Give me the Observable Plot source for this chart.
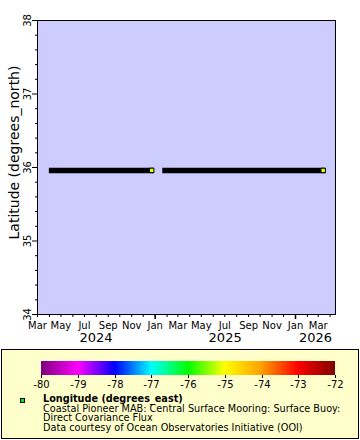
<!DOCTYPE html>
<html><head><meta charset="utf-8">
<script src="https://cdn.jsdelivr.net/npm/d3@7"></script>
<script src="https://cdn.jsdelivr.net/npm/@observablehq/plot@0.6"></script>
<style>
html,body{margin:0;padding:0;background:#fff;}
#wrap{position:relative;width:360px;height:440px;overflow:hidden;font-family:"DejaVu Sans";color:#000;}
#chart{position:absolute;left:0;top:0;}
#box{position:absolute;left:1px;top:349px;width:358px;height:90px;box-sizing:border-box;border:1px solid #000;background:#ffffcc;}
#cbar{position:absolute;left:0;top:343px;}
#cbar svg{background:transparent !important;font-family:"DejaVu Sans" !important;font-size:10px !important;color:#000;}
.lt{position:absolute;left:43px;height:9.7px;line-height:9.7px;white-space:nowrap;font-family:"DejaVu Sans";font-size:9.7px;}
#swatch{position:absolute;left:20px;top:398px;width:5px;height:5px;box-sizing:border-box;border:1px solid #000;background:#00ee00;}
</style>
</head><body>
<div id="wrap">
  <div id="chart"></div>
  <div id="box"></div>
  <div id="cbar"></div>
  <div id="swatch"></div>
  <div class="lt" style="top:394px;font-weight:bold;">Longitude (degrees_east)</div>
  <div class="lt" style="top:403.7px;">Coastal Pioneer MAB: Central Surface Mooring: Surface Buoy:</div>
  <div class="lt" style="top:413.4px;">Direct Covariance Flux</div>
  <div class="lt" style="top:423.1px;">Data courtesy of Ocean Observatories Initiative (OOI)</div>
</div>
<script>
// ---- data ----
const segStart = ["2024-04-08", "2025-01-28"];
const segEnd = ["2024-12-23", "2026-03-14"];
const segLat = [35.96, 35.96];
const lastLon = [-75.12, -75.12];

const lonStops = [-80, -79, -78, -77, -76, -75, -74, -73, -72];
const rampColors = ["#800080", "#ff00ff", "#0000ff", "#00ffff", "#00ff00", "#ffff00", "#ffa000", "#ff0000", "#800000"];

const monthTicks = ["2024-03-01","2024-04-01","2024-05-01","2024-06-01","2024-07-01","2024-08-01","2024-09-01","2024-10-01","2024-11-01","2024-12-01",
  "2025-01-01","2025-02-01","2025-03-01","2025-04-01","2025-05-01","2025-06-01","2025-07-01","2025-08-01","2025-09-01","2025-10-01","2025-11-01","2025-12-01",
  "2026-01-01","2026-02-01","2026-03-01","2026-04-01"];
const janTicks = ["2025-01-01", "2026-01-01"];
const monthLabelDates = ["2024-03-01","2024-05-01","2024-07-01","2024-09-01","2024-11-01","2025-01-01","2025-03-01","2025-05-01","2025-07-01","2025-09-01","2025-11-01","2026-01-01","2026-03-01"];
const monthLabels = ["Mar","May","Jul","Sep","Nov","Jan","Mar","May","Jul","Sep","Nov","Jan","Mar"];
const yearLabelDates = ["2024-07-31", "2025-07-02", "2026-02-22"];
const yearLabels = ["2024", "2025", "2026"];

const latMajor = [34, 35, 36, 37, 38];
const latMinor = [34.2, 34.4, 34.6, 34.8, 35.2, 35.4, 35.6, 35.8, 36.2, 36.4, 36.6, 36.8, 37.2, 37.4, 37.6, 37.8];
const xDomain = ["2024-03-01", "2026-04-15"];

// ---- build ----
const segments = segStart.map((s, i) => ({start: new Date(s), end: new Date(segEnd[i]), lat: segLat[i], lon: lastLon[i]}));
const colorOpts = {type: "linear", domain: lonStops, range: rampColors};

const chart = Plot.plot({
  width: 360, height: 347,
  marginLeft: 37, marginRight: 25, marginTop: 20, marginBottom: 33,
  style: {fontFamily: "DejaVu Sans", fontSize: "10px", background: "transparent", color: "black"},
  x: {type: "utc", domain: xDomain.map(d => new Date(d)), label: null},
  y: {domain: [34, 38], label: null},
  color: colorOpts,
  marks: [
    Plot.frame({fill: "#ccccff"}),
    Plot.axisX(monthTicks.map(d => new Date(d)), {tickSize: 3, tickFormat: () => "", label: null}),
    Plot.axisX(janTicks.map(d => new Date(d)), {tickSize: 5, strokeWidth: 1.5, tickFormat: () => "", label: null}),
    Plot.axisY(latMinor, {tickSize: 2, tickFormat: () => "", label: null}),
    Plot.axisY(latMajor, {tickSize: 5, tickFormat: () => "", label: null}),
    Plot.text(monthLabels, {x: (d, i) => new Date(monthLabelDates[i]), text: d => d, frameAnchor: "bottom", dy: 11, lineAnchor: "middle", textAnchor: "middle"}),
    Plot.text(yearLabels, {x: (d, i) => new Date(yearLabelDates[i]), text: d => d, frameAnchor: "bottom", dy: 23.5, lineAnchor: "middle", textAnchor: "middle", fontSize: 13}),
    Plot.text(latMajor, {y: d => d, text: d => String(d), frameAnchor: "left", dx: -10, rotate: -90, lineAnchor: "middle", textAnchor: "middle"}),
    Plot.text(["Latitude (degrees_north)"], {text: d => d, frameAnchor: "left", dx: -23, dy: -15, rotate: -90, lineAnchor: "middle", textAnchor: "middle", fontSize: 14}),
    Plot.ruleY(segments, {y: "lat", x1: "start", x2: "end", stroke: "black", strokeWidth: 5.5, strokeLinecap: "square"}),
    Plot.dot(segments, {x: "end", y: "lat", fill: "lon", stroke: "black", strokeWidth: 1, symbol: "square", r: 2.5}),
    Plot.frame({stroke: "black"})
  ]
});
document.getElementById("chart").appendChild(chart);

const cbar = Plot.legend({
  color: colorOpts,
  width: 360, height: 51, marginLeft: 41, marginRight: 25, marginTop: 18, marginBottom: 19,
  ticks: lonStops, tickSize: 3, tickFormat: d => String(d)
});
d3.select(cbar).selectAll(".tick line").attr("y1", 0);
document.getElementById("cbar").appendChild(cbar);
</script>
</body></html>
